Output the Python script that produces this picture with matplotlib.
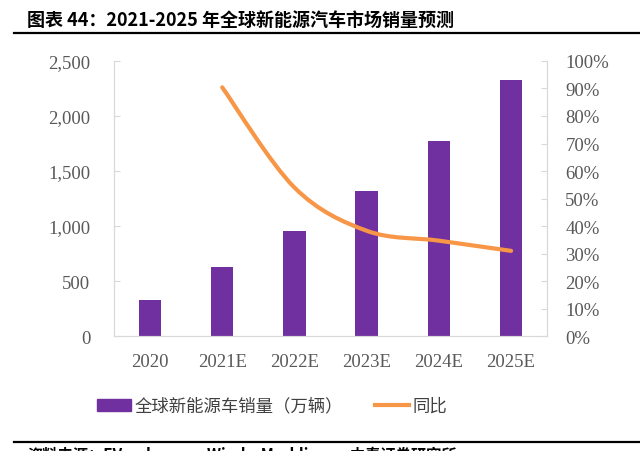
import numpy as np
import matplotlib.pyplot as plt
from matplotlib.path import Path
from matplotlib.patches import PathPatch, Patch
from matplotlib.lines import Line2D
from matplotlib.ticker import FuncFormatter

years = ['2020', '2021E', '2022E', '2023E', '2024E', '2025E']
sales = [330, 624, 957, 1321, 1776, 2327]          # 万辆
yoy_years = [1, 2, 3, 4, 5]
yoy = [0.904, 0.54, 0.383, 0.347, 0.31]

purple = '#7030A0'
orange = '#F79646'
grey = '#595959'
serif = 'Liberation Serif'
cjk = ['Noto Sans CJK SC', 'DejaVu Sans']

fig = plt.figure(figsize=(6.4, 4.52), dpi=100)
ax = fig.add_axes([0.178, 0.254, 0.677, 0.609])
x = np.arange(len(years))
ax.bar(x, sales, width=0.31, color=purple, zorder=2)
ax.set_xlim(-0.5, 5.5)
ax.set_ylim(0, 2500)
ax.set_yticks(np.arange(0, 2501, 500))
ax.yaxis.set_major_formatter(FuncFormatter(lambda v, p: f'{int(v):,}'))
ax.set_xticks(x)
ax.set_xticklabels(years)

ax2 = ax.twinx()
ax2.set_ylim(0, 1)
ax2.set_yticks(np.arange(0, 1.01, 0.1))
ax2.yaxis.set_major_formatter(FuncFormatter(lambda v, p: f'{int(round(v * 100))}%'))

# smoothed line (Catmull-Rom -> cubic bezier), like Excel's smoothing
pts = np.column_stack([yoy_years, yoy]).astype(float)
verts = [pts[0]]
codes = [Path.MOVETO]
n = len(pts)
for i in range(n - 1):
    p0 = pts[max(i - 1, 0)]
    p1 = pts[i]
    p2 = pts[i + 1]
    p3 = pts[min(i + 2, n - 1)]
    verts += [p1 + (p2 - p0) / 6, p2 - (p3 - p1) / 6, p2]
    codes += [Path.CURVE4] * 3
ax2.add_patch(PathPatch(Path(verts, codes), facecolor='none', edgecolor=orange,
                        lw=3, capstyle='round', zorder=3))

for a in (ax, ax2):
    for s in a.spines.values():
        s.set_color('#D9D9D9')
    a.spines['top'].set_visible(False)
ax.tick_params(axis='y', direction='in', length=4, color='#D9D9D9', pad=17,
               labelsize=13.5, labelcolor=grey)
ax2.tick_params(axis='y', direction='in', length=4, color='#D9D9D9', pad=13,
                labelsize=13.5, labelcolor=grey)
ax.tick_params(axis='x', length=0, pad=12, labelsize=13.5, labelcolor=grey)
for lab in ax.get_xticklabels() + ax.get_yticklabels() + ax2.get_yticklabels():
    lab.set_fontfamily(serif)

handles = [Patch(color=purple), Line2D([0], [0], color=orange, lw=3)]
fig.legend(handles, ['全球新能源车销量（万辆）', '同比'], loc='center',
           bbox_to_anchor=(272 / 640, 0.10), ncol=2, frameon=False,
           prop={'family': cjk, 'size': 12.5}, handlelength=2.0,
           handleheight=0.7, handletextpad=0.2, columnspacing=1.8,
           labelcolor='#404040')

fig.text(27 / 640, 1 - 20 / 452, '图表 44：2021-2025 年全球新能源汽车市场销量预测',
         fontsize=13, fontweight='bold', family=cjk, va='center', ha='left')
fig.add_artist(Line2D([14 / 640, 1], [1 - 33.5 / 452] * 2, color='black', lw=1.6))
fig.add_artist(Line2D([14 / 640, 1], [1 - 442.5 / 452] * 2, color='black', lw=1.6))
fig.text(27 / 640, 1 - 447 / 452, '资料来源：EV-volumes，Wind，Marklines，中泰证券研究所',
         fontsize=11, fontweight='bold', family=cjk, va='top', ha='left')

fig.savefig('out.png', dpi=100)
